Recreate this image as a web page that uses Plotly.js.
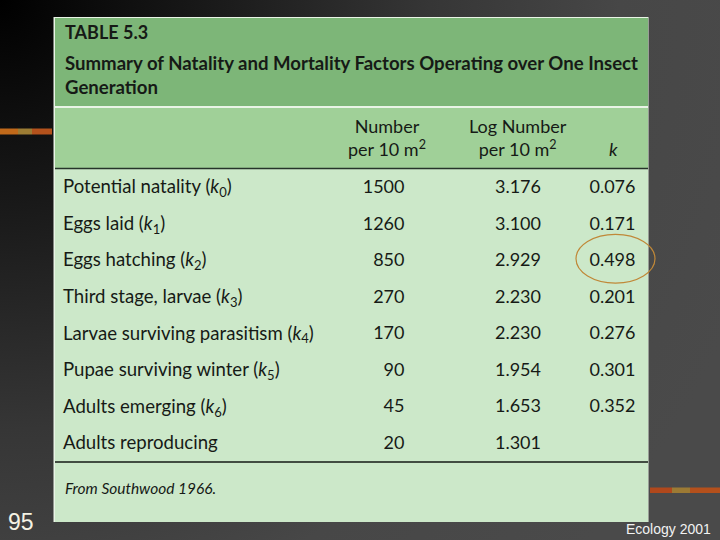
<!DOCTYPE html>
<html><head><meta charset="utf-8">
<script src="https://cdn.plot.ly/plotly-3.0.1.min.js"></script>
<style>
html,body{margin:0;padding:0;width:720px;height:540px;overflow:hidden;
background: radial-gradient(circle at 0 0, #000000 0px, #1c1c1c 230px, #363636 430px, #474747 620px, #4a4a4a 800px);}
#chart{width:720px;height:540px;}
</style></head><body><div id="chart"></div>
<script>
const stageNames = ['Potential natality', 'Eggs laid', 'Eggs hatching', 'Third stage, larvae',
  'Larvae surviving parasitism', 'Pupae surviving winter', 'Adults emerging', 'Adults reproducing'];
const kIndex = [0, 1, 2, 3, 4, 5, 6, null];
const numberPer10m2 = [1500, 1260, 850, 270, 170, 90, 45, 20];
const logNumberPer10m2 = [3.176, 3.100, 2.929, 2.230, 2.230, 1.954, 1.653, 1.301];
const kValues = [0.076, 0.171, 0.498, 0.201, 0.276, 0.301, 0.352];
const columnHeaders = ['Number<br>per 10 m<sup>2</sup>', 'Log Number<br>per 10 m<sup>2</sup>', '<i>k</i>'];
const tableTitle = 'TABLE 5.3';
const tableCaption = 'Summary of Natality and Mortality Factors Operating over One Insect<br>Generation';
const sourceNote = 'From Southwood 1966.';
const slideNumber = '95';
const slideFooter = 'Ecology 2001';
const highlightRow = 2; // the circled (largest) k value

// ---- build ----
const FONT = 'Lato, "Open Sans", sans-serif';
const INK = '#161a16';
const px = x => x / 720;
const py = y => 1 - y / 540;

const labels = stageNames.map((s, i) => kIndex[i] === null ? s : s + ' (<i>k</i><sub>' + kIndex[i] + '</sub>)');
const textFont = {family: FONT, size: 18, color: INK};
const labelFont = {family: FONT, size: 18.6, color: INK};

function column(xaxis, colKey, values, texts, pos, font) {
  return {
    type: 'scatter', mode: 'text', xaxis: xaxis, yaxis: 'y',
    x: values.map(() => colKey), y: stageNames.slice(0, values.length),
    text: texts, textposition: pos, textfont: font,
    cliponaxis: false, hoverinfo: 'skip', showlegend: false
  };
}

const traces = [
  column('x', 'stage', stageNames, labels, 'middle right', labelFont),
  column('x2', 'number', numberPer10m2, numberPer10m2.map(v => String(v)), 'middle left', textFont),
  column('x3', 'log', logNumberPer10m2, logNumberPer10m2.map(v => v.toFixed(3)), 'middle center', textFont),
  column('x4', 'k', kValues, kValues.map(v => v.toFixed(3)), 'middle center', textFont)
];

function hiddenX(d0, d1, r) {
  return {domain: [px(d0), px(d1)], type: 'category', range: r, visible: false, fixedrange: true};
}

function rect(x0, y0, x1, y1, color) {
  return {type: 'rect', xref: 'paper', yref: 'paper', x0: px(x0), x1: px(x1), y0: py(y1), y1: py(y0),
    fillcolor: color, line: {width: 0}, layer: 'below'};
}
function hline(x0, x1, y, color, w) {
  return {type: 'line', xref: 'paper', yref: 'paper', x0: px(x0), x1: px(x1), y0: py(y), y1: py(y),
    line: {color: color, width: w}};
}

const shapes = [
  rect(53.5, 17, 648.5, 522, '#e9f4e6'),
  rect(55, 18, 648, 106, '#7db678'),
  rect(55, 108, 648, 168, '#a0d098'),
  rect(55, 169, 648, 522, '#cce8c9'),
  hline(55, 648, 168.5, '#26332a', 1.6),
  hline(55, 648, 462, '#151a15', 1.6),
  // decorative strips
  rect(0, 128.5, 18, 134.5, '#c0691a'),
  rect(18, 128.5, 32, 134.5, '#9c7c34'),
  rect(32, 128.5, 52, 134.5, '#b4521c'),
  rect(650, 487.5, 672, 493, '#b0481c'),
  rect(672, 487.5, 690, 493, '#9c7a34'),
  rect(690, 487.5, 720, 493, '#b4501c'),
  // circle around the largest k
  {type: 'circle', xref: 'paper', yref: 'y', x0: px(576), x1: px(655),
    y0: highlightRow - 0.75, y1: highlightRow + 0.58,
    line: {color: '#c08838', width: 1.2}}
];

const annotations = [
  {text: '<b>' + tableTitle + '</b>', x: px(63), y: py(32), xanchor: 'left', yanchor: 'middle',
    font: {family: FONT, size: 18, color: INK}},
  {text: '<b>' + tableCaption + '</b>', x: px(63), y: py(50), xanchor: 'left', yanchor: 'top', align: 'left',
    font: {family: FONT, size: 18.6, color: INK}},
  {text: columnHeaders[0], x: px(387), y: py(137), xanchor: 'center', yanchor: 'middle', font: textFont},
  {text: columnHeaders[1], x: px(518), y: py(137), xanchor: 'center', yanchor: 'middle', font: textFont},
  {text: columnHeaders[2], x: px(613), y: py(149), xanchor: 'center', yanchor: 'middle', font: textFont},
  {text: '<i>' + sourceNote + '</i>', x: px(63), y: py(488), xanchor: 'left', yanchor: 'middle',
    font: {family: FONT, size: 15.5, color: INK}},
  {text: slideNumber, x: px(6), y: py(522), xanchor: 'left', yanchor: 'middle',
    font: {family: 'Liberation Sans, Arial, sans-serif', size: 23, color: '#f4f2e4'}},
  {text: slideFooter, x: px(713), y: py(529), xanchor: 'right', yanchor: 'middle',
    font: {family: 'Liberation Sans, Arial, sans-serif', size: 14, color: '#f2f2f2'}}
].map(a => Object.assign({xref: 'paper', yref: 'paper', showarrow: false}, a));

const layout = {
  width: 720, height: 540,
  margin: {l: 0, r: 0, t: 0, b: 0},
  paper_bgcolor: 'rgba(0,0,0,0)', plot_bgcolor: 'rgba(0,0,0,0)',
  xaxis: hiddenX(63, 345, [0, 1]),
  xaxis2: hiddenX(350, 404.5, [-1, 0]),
  xaxis3: hiddenX(478, 558, [-0.5, 0.5]),
  xaxis4: hiddenX(575, 650, [-0.5, 0.5]),
  yaxis: {domain: [py(462.8), py(170.5)], type: 'category', categoryarray: stageNames,
    range: [stageNames.length - 0.5, -0.5], visible: false, fixedrange: true},
  shapes: shapes, annotations: annotations,
  showlegend: false
};
Plotly.newPlot('chart', traces, layout, {displayModeBar: false, staticPlot: true});
</script></body></html>
